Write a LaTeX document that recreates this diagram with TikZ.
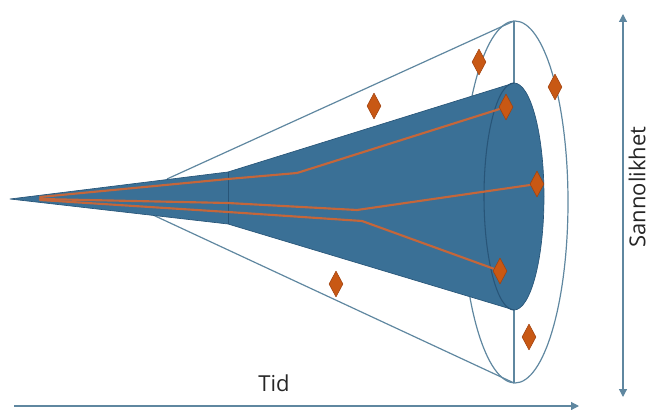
\documentclass[tikz,border=0pt]{standalone}
\usepackage{fontspec}
\setmainfont{Open Sans}
\usetikzlibrary{arrows.meta, shapes.geometric}

\definecolor{conefill}{RGB}{58,112,150}
\definecolor{coneedge}{RGB}{40,85,120}
\definecolor{shelledge}{RGB}{95,135,160}
\definecolor{pathorange}{RGB}{196,102,58}
\definecolor{markorange}{RGB}{200,88,20}
\definecolor{markedge}{RGB}{160,65,15}

\tikzset{
  shell/.style={draw=shelledge, line width=0.9pt},
  scenario/.style={draw=pathorange, line width=1.6pt, line join=round, line cap=round},
  outcome/.style={shape=diamond, fill=markorange, draw=markedge, line width=0.4pt,
    minimum width=10.5pt, minimum height=19.5pt, inner sep=0pt},
  axis/.style={draw=shelledge, line width=0.9pt},
  axislabel/.style={font=\fontsize{16.5}{20}\selectfont, text=black!85, inner sep=0pt}
}

\begin{document}
\begin{tikzpicture}[x=0.75pt, y=-0.75pt, line join=round]
\useasboundingbox (0,0) rectangle (651,410);
\def\endx{514}

% Cone points
\coordinate (tip) at (10,199);
\coordinate (neckT) at (228,172);
\coordinate (neckB) at (228,224);
\coordinate (innerT) at (\endx,83);
\coordinate (innerB) at (\endx,310);
\coordinate (outerT) at (\endx,21);
\coordinate (outerB) at (\endx,383);
\coordinate (spreadT) at (167,179);
\coordinate (spreadB) at (153,215);

% Outer uncertainty shell, behind the cone
\draw[shell] (spreadT) -- (outerT);
\draw[shell] (spreadB) -- (outerB);
\draw[shell] (\endx+1,202) ellipse[x radius=53, y radius=181];
\draw[shell] (outerT) -- (innerT);
\draw[shell] (innerB) -- (outerB);

% Inner cone (y axis points down, so the arc angles are mirrored)
\fill[conefill, draw=coneedge, line width=0.5pt] (tip) -- (neckT) -- (innerT)
  arc[start angle=-90, end angle=90, x radius=30, y radius=113.5] -- (neckB) -- cycle;
\draw[coneedge, line width=0.8pt] (innerT)
  arc[start angle=-90, end angle=-270, x radius=30, y radius=113.5];
\draw[coneedge, line width=0.7pt] (neckT) -- (neckB);

% Scenario paths
\draw[scenario] (40,197) -- (228,179) -- (297,173) -- (506,107);
\draw[scenario] (40,199) -- (228,203) -- (357,210) -- (537,184);
\draw[scenario] (40,200) -- (228,212) -- (362,221) -- (500,271);

% Outcomes
\node[outcome] (o1) at (479,62) {};
\node[outcome] (o2) at (555,87) {};
\node[outcome] (o3) at (506,107) {};
\node[outcome] (o4) at (537,184) {};
\node[outcome] (o5) at (500,271) {};
\node[outcome] (o6) at (529,337) {};
\node[outcome] (o7) at (374,106) {};
\node[outcome] (o8) at (336,284) {};

% Axes
\coordinate (tidA) at (14,406);
\coordinate (tidB) at (579,406);
\coordinate (sanA) at (623,397);
\coordinate (sanB) at (623,14);
\draw[axis, -{Triangle[length=6pt, width=6pt]}] (tidA) -- (tidB);
\draw[axis, {Triangle[length=6pt, width=6pt]}-{Triangle[length=6pt, width=6pt]}] (sanA) -- (sanB);
\node[axislabel] (tid) at (274,383) {Tid};
\node[axislabel, rotate=90] (san) at (637,187) {Sannolikhet};
\end{tikzpicture}
\end{document}
